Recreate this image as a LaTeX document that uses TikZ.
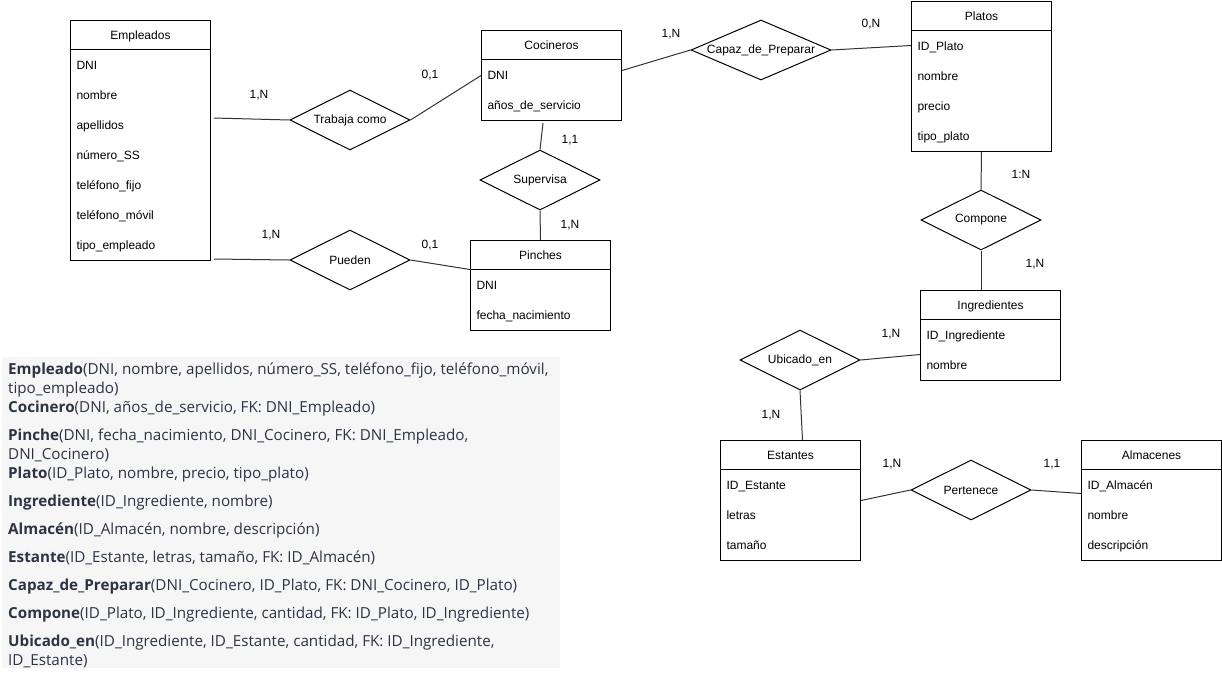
\documentclass[tikz,border=0pt]{standalone}
\usepackage{fontspec}
\setmainfont{Liberation Sans}
\newfontfamily\textofont{Open Sans}
\usetikzlibrary{shapes.multipart,shapes.geometric}
\definecolor{tinta}{RGB}{44,52,68}
\definecolor{fondo}{RGB}{246,246,247}
\newcommand\fila{\rule[-11pt]{0pt}{30pt}}
\newcommand\cabeza{\rule[-10pt]{0pt}{28pt}}
\setlength\parindent{0pt}

\begin{document}
\begin{tikzpicture}[x=1pt, y=-1pt,
	entidad/.style={rectangle split, rectangle split parts=2, draw, line width=1pt, anchor=north west,
		inner xsep=6pt, inner ysep=0pt, text width=128pt, font=\fontsize{12}{30}\selectfont},
	relacion/.style={diamond, aspect=2.33, draw, line width=1pt, minimum width=120pt, minimum height=60pt,
		inner sep=0pt, font=\fontsize{12}{14}\selectfont},
	linea/.style={line width=1pt, black!80},
	card/.style={inner sep=0pt, font=\fontsize{12}{14}\selectfont},
	esquema/.style={anchor=north west, align=left, inner sep=0pt, text=tinta,
		font=\textofont\fontsize{15.2}{19}\selectfont}]
			\useasboundingbox (0,0) rectangle (1222,689);
			
			\node[entidad] (Empleados) at (70,20) {\centering\cabeza Empleados\par
				\nodepart{two}\raggedright\fila DNI\\\fila nombre\\\fila apellidos\\\fila número\_SS\\
				\fila teléfono\_fijo\\\fila teléfono\_móvil\\\fila tipo\_empleado};
			\node[entidad] (Cocineros) at (481,30) {\centering\cabeza Cocineros\par
				\nodepart{two}\raggedright\fila DNI\\\fila años\_de\_servicio};
			\node[entidad] (Pinches) at (470,240) {\centering\cabeza Pinches\par
				\nodepart{two}\raggedright\fila DNI\\\fila fecha\_nacimiento};
			\node[entidad] (Platos) at (911,1) {\centering\cabeza Platos\par
				\nodepart{two}\raggedright\fila ID\_Plato\\\fila nombre\\\fila precio\\\fila tipo\_plato};
			\node[entidad] (Ingredientes) at (920,290) {\centering\cabeza Ingredientes\par
				\nodepart{two}\raggedright\fila ID\_Ingrediente\\\fila nombre};
			\node[entidad] (Estantes) at (720,440) {\centering\cabeza Estantes\par
				\nodepart{two}\raggedright\fila ID\_Estante\\\fila letras\\\fila tamaño};
			\node[entidad] (Almacenes) at (1081,440) {\centering\cabeza Almacenes\par
				\nodepart{two}\raggedright\fila ID\_Almacén\\\fila nombre\\\fila descripción};
			
			\node[relacion] (Trabaja) at (350,120) {Trabaja como};
			\node[relacion] (Pueden) at (350,260) {Pueden};
			\node[relacion] (Supervisa) at (540,180) {Supervisa};
			\node[relacion, minimum width=140pt] (Capaz) at (761,50) {Capaz\_de\_Preparar};
			\node[relacion] (Compone) at (981,220) {Compone};
			\node[relacion] (Ubicado) at (800,360) {Ubicado\_en};
			\node[relacion] (Pertenece) at (971,490) {Pertenece};
			
			\coordinate (eTrabaja) at (214,118);
			\coordinate (ePueden) at (214,259);
			\coordinate (cSupervisa) at (543,123);
			
			\draw[linea] (eTrabaja) -- (Trabaja.west);
			\draw[linea] (Trabaja.east) -- (Cocineros.west);
			\draw[linea] (cSupervisa) -- (Supervisa.north);
			\draw[linea] (Supervisa.south) -- (Pinches.north);
			\draw[linea] (ePueden) -- (Pueden.west);
			\draw[linea] (Pueden.east) -- (Pinches.text split west);
			\draw[linea] ([yshift=5pt]Cocineros.east) -- (Capaz.west);
			\draw[linea] (Capaz.east) -- ([yshift=-15pt]Platos.text split west);
			\draw[linea] (Platos.south) -- (Compone.north);
			\draw[linea] (Compone.south) -- (Compone.south |- Ingredientes.north);
			\draw[linea] (Ubicado.east) -- ([yshift=-19pt]Ingredientes.west);
			\draw[linea] (Ubicado.south) -- ([xshift=12pt]Estantes.north);
			\draw[linea] (Estantes.east) -- (Pertenece.west);
			\draw[linea] (Pertenece.east) -- ([yshift=7pt]Almacenes.west);
			
			\node[card] (cTrabajaE) at (259,95) {1,N};
			\node[card] (cTrabajaC) at (430,75) {0,1};
			\node[card] (cPuedenE) at (271,235) {1,N};
			\node[card] (cPuedenP) at (430,245) {0,1};
			\node[card] (cSupervisaC) at (570,140) {1,1};
			\node[card] (cSupervisaP) at (570,225) {1,N};
			\node[card] (cCapazC) at (671,34) {1,N};
			\node[card] (cCapazP) at (871,24) {0,N};
			\node[card] (cComponeP) at (1021,174) {1:N};
			\node[card] (cComponeI) at (1035,264) {1,N};
			\node[card] (cUbicadoI) at (891,334) {1,N};
			\node[card] (cUbicadoE) at (771,415) {1,N};
			\node[card] (cPerteneceE) at (892,464) {1,N};
			\node[card] (cPerteneceA) at (1052,464) {1,1};
			
			\fill[fondo] (2,357) rectangle (560,668);
			\node[esquema] (relacional) at (8,363) {\textbf{Empleado}(DNI, nombre, apellidos, número\_SS, teléfono\_fijo, teléfono\_móvil,\\
				tipo\_empleado)\\
				\textbf{Cocinero}(DNI, años\_de\_servicio, FK: DNI\_Empleado)\\[9pt]
				\textbf{Pinche}(DNI, fecha\_nacimiento, DNI\_Cocinero, FK: DNI\_Empleado,\\
				DNI\_Cocinero)\\
				\textbf{Plato}(ID\_Plato, nombre, precio, tipo\_plato)\\[9pt]
				\textbf{Ingrediente}(ID\_Ingrediente, nombre)\\[9pt]
				\textbf{Almacén}(ID\_Almacén, nombre, descripción)\\[9pt]
				\textbf{Estante}(ID\_Estante, letras, tamaño, FK: ID\_Almacén)\\[9pt]
				\textbf{Capaz\_de\_Preparar}(DNI\_Cocinero, ID\_Plato, FK: DNI\_Cocinero, ID\_Plato)\\[9pt]
				\textbf{Compone}(ID\_Plato, ID\_Ingrediente, cantidad, FK: ID\_Plato, ID\_Ingrediente)\\[9pt]
				\textbf{Ubicado\_en}(ID\_Ingrediente, ID\_Estante, cantidad, FK: ID\_Ingrediente,\\
				ID\_Estante)};
			\end{tikzpicture}
\end{document}
